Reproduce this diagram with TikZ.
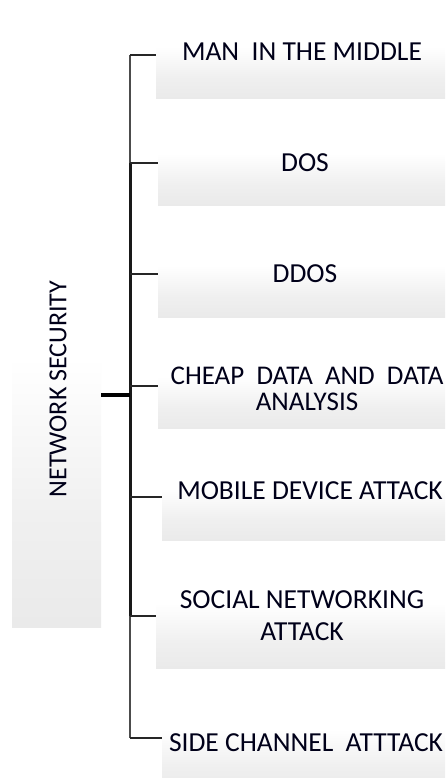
\documentclass[tikz,border=0pt]{standalone}
\usepackage{fontspec}
\setmainfont{Carlito}
\pgfdeclareverticalshading{boxfade}{100bp}{color(0bp)=(black!12); color(40bp)=(black!6); color(62bp)=(white); color(100bp)=(white)}
\tikzset{
  itembox/.style={shading=boxfade, draw=none, inner sep=0pt, anchor=north west},
  itemtext/.style={font=\fontsize{27.5}{30}\selectfont, text=black!90!blue, align=center, inner sep=0pt},
  branch/.style={line width=1.4pt, draw=black!85},
  spine/.style={line width=1.5pt, draw=black!70},
  trunk/.style={line width=3pt, draw=black!90},
  stub/.style={line width=3.6pt, draw=black},
}
\begin{document}
\begin{tikzpicture}[x=1pt,y=-1pt]
\useasboundingbox (0,0) rectangle (445,778);
\clip (0,0) rectangle (445,778);
\fill[white] (0,0) rectangle (445,778);

% root box
\node[itembox, minimum width=89pt, minimum height=365pt] (root) at (12,262) {};
\node[itemtext, rotate=90, font=\fontsize{26}{28}\selectfont] (title) at (58,389) {NETWORK SECURITY};

% item boxes
\node[itembox, minimum width=300pt, minimum height=70pt] (b1) at (156,28) {};
\node[itembox, minimum width=300pt, minimum height=70pt] (b2) at (158,135) {};
\node[itembox, minimum width=300pt, minimum height=70pt] (b3) at (158,247) {};
\node[itembox, minimum width=300pt, minimum height=70pt] (b4) at (158,358) {};
\node[itembox, minimum width=300pt, minimum height=70pt] (b5) at (162,470) {};
\node[itembox, minimum width=300pt, minimum height=88pt] (b6) at (156,580) {};
\node[itembox, minimum width=300pt, minimum height=82pt] (b7) at (162,708) {};

% labels
\node[itemtext] (t1) at (302,52) {MAN\ \ IN THE MIDDLE};
\node[itemtext] (t2) at (305,163) {DOS};
\node[itemtext] (t3) at (305,274) {DDOS};
\node[itemtext, font=\fontsize{27}{26}\selectfont] (t4) at (307,389) {CHEAP\ \ DATA\ \ AND\ \ DATA\\ANALYSIS};
\node[itemtext] (t5) at (310,491) {MOBILE DEVICE ATTACK};
\node[itemtext, font=\fontsize{27.5}{32}\selectfont] (t6) at (302,616) {SOCIAL NETWORKING\\ATTACK};
\node[itemtext] (t7) at (306,743) {SIDE CHANNEL\ \ ATTTACK};

% spine points
\coordinate (s1) at (130,55);
\coordinate (s2) at (130,163);
\coordinate (s3) at (130,274);
\coordinate (s4) at (130,386);
\coordinate (s5) at (130,497);
\coordinate (s6) at (130,616);
\coordinate (s7) at (130,738);
\coordinate (hub) at (130,395);

% tree
\draw[spine] (s1) -- (s7);
\draw[trunk] (s2) -- (s6);
\draw[stub] (root.east |- hub) -- (hub);
\foreach \i in {1,...,7} {
  \draw[branch] (s\i) -- (s\i -| b\i.west);
}
\end{tikzpicture}
\end{document}
